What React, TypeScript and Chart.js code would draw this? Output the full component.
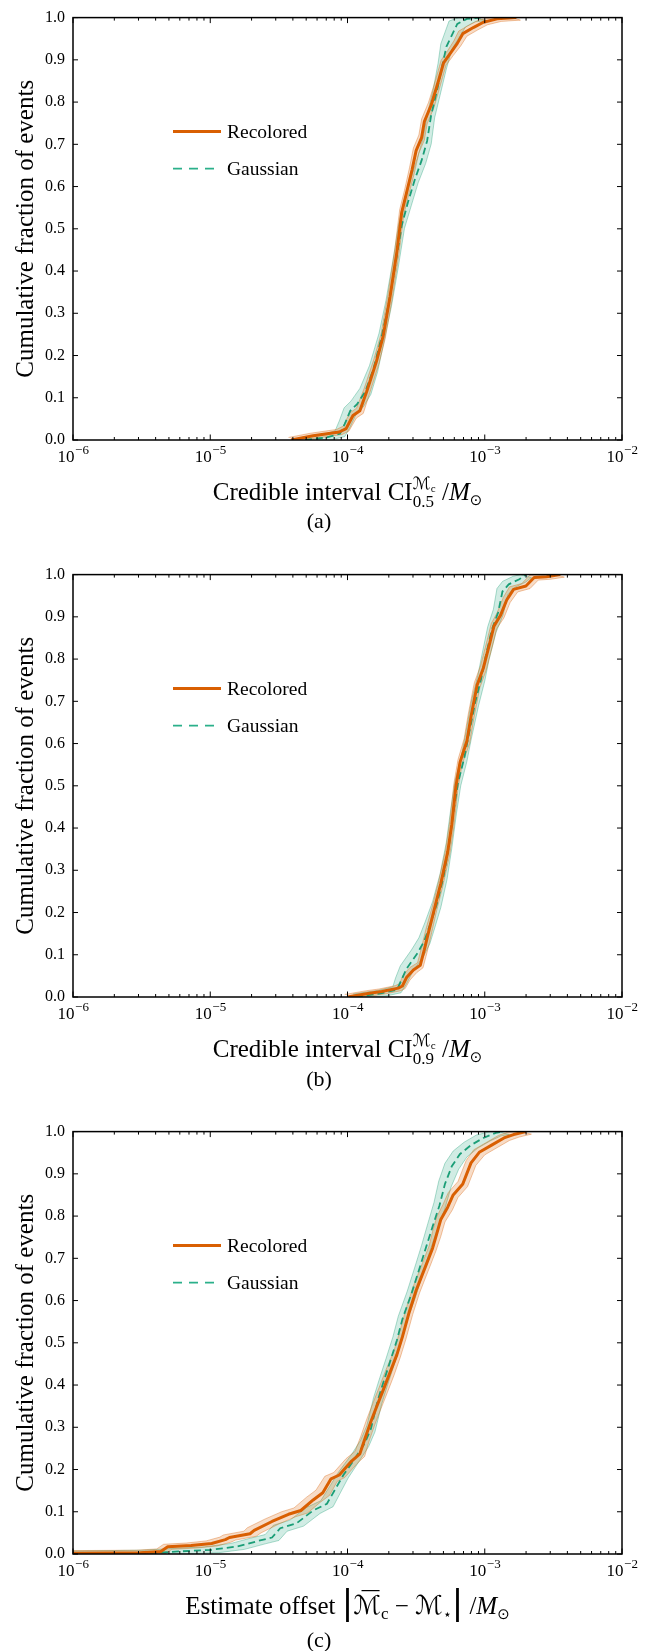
import React, { useEffect, useRef } from 'react';
import { Chart, registerables } from 'chart.js';

Chart.register(...registerables);

// ---------- shared labels / ticks ----------
const seriesLabels = ['Recolored', 'Gaussian'];
const yAxisTitle = 'Cumulative fraction of events';
const xTickExponents = [-6, -5, -4, -3, -2];
const minorTickMultipliers = [2, 3, 4, 5, 6, 7, 8, 9];
const yTickValues = [0, 0.1, 0.2, 0.3, 0.4, 0.5, 0.6, 0.7, 0.8, 0.9, 1.0];
const captions = ['(a)', '(b)', '(c)'];

// ---------- panel (a): credible interval CI_0.5 (log10 of x, CDF value, band half-width in decades) ----------
const aRecLogX = [-4.41, -4.25, -4.06, -4.01, -3.96, -3.91, -3.86, -3.79, -3.74, -3.69, -3.64, -3.605, -3.57, -3.53, -3.5, -3.46, -3.44, -3.39, -3.34, -3.3, -3.25, -3.2, -3.16, -3.08, -3.01, -2.91, -2.77];
const aRecY = [0, 0.01, 0.019, 0.027, 0.058, 0.069, 0.115, 0.185, 0.246, 0.339, 0.446, 0.539, 0.585, 0.639, 0.685, 0.716, 0.754, 0.793, 0.847, 0.893, 0.916, 0.939, 0.962, 0.977, 0.989, 0.997, 1.0];
const aRecBand = [0.02, 0.02, 0.02, 0.02, 0.025, 0.025, 0.02, 0.018, 0.015, 0.015, 0.015, 0.015, 0.015, 0.018, 0.02, 0.02, 0.02, 0.02, 0.018, 0.018, 0.02, 0.025, 0.03, 0.03, 0.03, 0.03, 0.03];
const aGauLogX = [-4.31, -4.15, -4.055, -4.02, -3.98, -3.93, -3.87, -3.81, -3.75, -3.7, -3.65, -3.605, -3.56, -3.51, -3.46, -3.42, -3.39, -3.35, -3.31, -3.28, -3.24, -3.2, -3.13, -3.03];
const aGauY = [0, 0.006, 0.015, 0.038, 0.069, 0.085, 0.115, 0.169, 0.246, 0.323, 0.416, 0.508, 0.562, 0.616, 0.662, 0.708, 0.77, 0.824, 0.885, 0.931, 0.958, 0.985, 0.997, 1.0];
const aGauBand = [0.02, 0.025, 0.035, 0.04, 0.045, 0.045, 0.04, 0.03, 0.02, 0.02, 0.02, 0.02, 0.025, 0.025, 0.03, 0.03, 0.025, 0.025, 0.03, 0.04, 0.05, 0.06, 0.06, 0.05];

// ---------- panel (b): credible interval CI_0.9 ----------
const bRecLogX = [-4.0, -3.84, -3.75, -3.63, -3.6, -3.57, -3.52, -3.47, -3.44, -3.41, -3.365, -3.32, -3.27, -3.24, -3.21, -3.18, -3.13, -3.1, -3.056, -3.01, -2.964, -2.933, -2.886, -2.84, -2.79, -2.7, -2.64, -2.55, -2.45];
const bRecY = [0, 0.009, 0.013, 0.021, 0.026, 0.046, 0.064, 0.075, 0.112, 0.153, 0.211, 0.269, 0.343, 0.409, 0.499, 0.556, 0.606, 0.664, 0.738, 0.779, 0.837, 0.878, 0.903, 0.94, 0.965, 0.973, 0.993, 0.995, 1.0];
const bRecBand = [0.02, 0.02, 0.02, 0.02, 0.02, 0.025, 0.025, 0.02, 0.02, 0.02, 0.015, 0.015, 0.015, 0.015, 0.015, 0.015, 0.02, 0.02, 0.02, 0.02, 0.02, 0.02, 0.025, 0.025, 0.03, 0.03, 0.03, 0.03, 0.03];
const bGauLogX = [-3.94, -3.75, -3.64, -3.61, -3.57, -3.49, -3.44, -3.4, -3.35, -3.3, -3.26, -3.226, -3.195, -3.15, -3.12, -3.07, -3.025, -2.995, -2.948, -2.902, -2.871, -2.825, -2.748, -2.7];
const bGauY = [0, 0.009, 0.017, 0.038, 0.067, 0.104, 0.133, 0.17, 0.219, 0.285, 0.359, 0.442, 0.507, 0.565, 0.615, 0.697, 0.755, 0.804, 0.87, 0.911, 0.96, 0.977, 0.989, 1.0];
const bGauBand = [0.02, 0.025, 0.03, 0.04, 0.045, 0.045, 0.04, 0.035, 0.03, 0.025, 0.02, 0.02, 0.02, 0.02, 0.02, 0.025, 0.025, 0.025, 0.03, 0.035, 0.04, 0.045, 0.045, 0.04];

// ---------- panel (c): estimate offset ----------
const cRecLogX = [-6.0, -5.51, -5.36, -5.31, -5.14, -4.99, -4.89, -4.86, -4.71, -4.68, -4.55, -4.43, -4.34, -4.25, -4.18, -4.12, -4.06, -3.97, -3.91, -3.875, -3.83, -3.78, -3.74, -3.69, -3.64, -3.6, -3.55, -3.5, -3.47, -3.43, -3.38, -3.35, -3.32, -3.27, -3.23, -3.16, -3.13, -3.1, -3.04, -2.95, -2.86, -2.79, -2.7];
const cRecY = [0.002, 0.003, 0.006, 0.017, 0.02, 0.025, 0.034, 0.039, 0.048, 0.056, 0.077, 0.094, 0.103, 0.128, 0.145, 0.178, 0.187, 0.22, 0.237, 0.271, 0.313, 0.355, 0.388, 0.43, 0.472, 0.514, 0.573, 0.624, 0.649, 0.682, 0.724, 0.758, 0.792, 0.821, 0.85, 0.876, 0.901, 0.926, 0.951, 0.968, 0.985, 0.993, 1.0];
const cRecBand = [0.03, 0.03, 0.03, 0.03, 0.035, 0.04, 0.04, 0.045, 0.045, 0.05,
  0.05, 0.05, 0.05, 0.05, 0.05, 0.045, 0.04, 0.04, 0.035, 0.03,
  0.03, 0.03, 0.03, 0.03, 0.025, 0.025, 0.025, 0.025, 0.025, 0.025,
  0.025, 0.03, 0.03, 0.035, 0.035, 0.035, 0.035, 0.035, 0.04, 0.04,
  0.04, 0.04, 0.04];
const cGauLogX = [-6.0, -5.45, -5.23, -4.99, -4.8, -4.65, -4.55, -4.49, -4.37, -4.25, -4.15, -4.09, -4.03, -3.94, -3.875, -3.83, -3.78, -3.74, -3.69, -3.64, -3.6, -3.535, -3.47, -3.43, -3.38, -3.33, -3.29, -3.24, -3.18, -3.1, -3.01, -2.92, -2.86];
const cGauY = [0.0, 0.002, 0.006, 0.01, 0.018, 0.031, 0.039, 0.061, 0.073, 0.103, 0.119, 0.153, 0.187, 0.229, 0.262, 0.296, 0.363, 0.405, 0.455, 0.506, 0.556, 0.615, 0.682, 0.724, 0.775, 0.825, 0.876, 0.918, 0.947, 0.968, 0.985, 0.997, 1.0];
const cGauBand = [0.04, 0.05, 0.05, 0.05, 0.05, 0.05, 0.05, 0.05, 0.05, 0.05,
  0.045, 0.04, 0.035, 0.03, 0.03, 0.03, 0.03, 0.03, 0.03, 0.03,
  0.03, 0.03, 0.03, 0.03, 0.035, 0.04, 0.045, 0.05, 0.05, 0.05,
  0.05, 0.04, 0.04];

// ---------- styles ----------
const ORANGE = '#d95f02';
const GREEN = '#1b9e77';
const SERIF = "'Liberation Serif', 'DejaVu Serif', 'Times New Roman', serif";
const SYM = "'DejaVu Sans', sans-serif";
const REC_BAND_DY = 0.006;
const GAU_BAND_DY = 0.007;

type Piece = { t: string; size: number; italic?: boolean; dy?: number; family?: string; bar?: boolean };
type Item = Piece | { stack: Piece[][] };

const xTitleA: Item[] = [
  { t: 'Credible interval CI', size: 25 },
  { stack: [[{ t: '\u2133', size: 17, family: SYM, dy: -11 }, { t: 'c', size: 11, dy: -8 }], [{ t: '0.5', size: 17, dy: 7 }]] },
  { t: ' /', size: 25 },
  { t: 'M', size: 25, italic: true },
  { t: '\u2299', size: 15, family: SYM, dy: 5 },
];
const xTitleB: Item[] = [
  { t: 'Credible interval CI', size: 25 },
  { stack: [[{ t: '\u2133', size: 17, family: SYM, dy: -11 }, { t: 'c', size: 11, dy: -8 }], [{ t: '0.9', size: 17, dy: 7 }]] },
  { t: ' /', size: 25 },
  { t: 'M', size: 25, italic: true },
  { t: '\u2299', size: 15, family: SYM, dy: 5 },
];
const xTitleC: Item[] = [
  { t: 'Estimate offset ', size: 25 },
  { t: '|', size: 34, family: SYM },
  { t: '\u2133', size: 26, family: SYM, bar: true },
  { t: 'c', size: 17, dy: 5 },
  { t: ' \u2212 ', size: 25 },
  { t: '\u2133', size: 26, family: SYM },
  { t: '\u22c6', size: 14, family: SYM, dy: 5 },
  { t: '|', size: 34, family: SYM },
  { t: ' /', size: 25 },
  { t: 'M', size: 25, italic: true },
  { t: '\u2299', size: 15, family: SYM, dy: 5 },
];

type Series = { logX: number[]; y: number[]; band: number[]; dy: number };

function linePoints(s: Series) {
  return s.logX.map((lx, i) => ({ x: Math.pow(10, lx), y: s.y[i] }));
}
function bandPolygon(s: Series) {
  const upper = s.logX.map((lx, i) => ({ x: Math.pow(10, lx - s.band[i]), y: Math.min(1, s.y[i] + s.dy) }));
  const lower = s.logX.map((lx, i) => ({ x: Math.pow(10, lx + s.band[i]), y: Math.max(0, s.y[i] - s.dy) }));
  return [...upper, ...lower.reverse()];
}

function fontOf(p: Piece) {
  return `${p.italic ? 'italic ' : ''}${p.size}px ${p.family ?? SERIF}`;
}
function piecesWidth(ctx: CanvasRenderingContext2D, ps: Piece[]) {
  let w = 0;
  for (const p of ps) {
    ctx.font = fontOf(p);
    w += ctx.measureText(p.t).width;
  }
  return w;
}
function itemWidth(ctx: CanvasRenderingContext2D, it: Item) {
  if ('stack' in it) return Math.max(...it.stack.map((r) => piecesWidth(ctx, r)));
  return piecesWidth(ctx, [it]);
}
function drawPieces(ctx: CanvasRenderingContext2D, ps: Piece[], x: number, y: number) {
  for (const p of ps) {
    ctx.font = fontOf(p);
    const w = ctx.measureText(p.t).width;
    const by = y + (p.dy ?? 0);
    ctx.fillText(p.t, x, by);
    if (p.bar) {
      ctx.save();
      ctx.lineWidth = 1.2;
      ctx.strokeStyle = '#000';
      ctx.beginPath();
      ctx.moveTo(x + w * 0.3, by - p.size * 0.88);
      ctx.lineTo(x + w * 0.95, by - p.size * 0.88);
      ctx.stroke();
      ctx.restore();
    }
    x += w;
  }
  return x;
}
function drawItems(ctx: CanvasRenderingContext2D, items: Item[], cx: number, baseline: number) {
  const total = items.reduce((a, it) => a + itemWidth(ctx, it), 0);
  let x = cx - total / 2;
  ctx.textAlign = 'left';
  ctx.textBaseline = 'alphabetic';
  for (const it of items) {
    if ('stack' in it) {
      for (const row of it.stack) drawPieces(ctx, row, x, baseline);
      x += itemWidth(ctx, it);
    } else {
      x = drawPieces(ctx, [it], x, baseline);
    }
  }
}

type PanelProps = {
  rec: Series;
  gau: Series;
  xTitle: Item[];
  caption: string;
  height: number;
  captionOffset: number;
};

const PLOT_TOP = 7;
const PLOT_BOTTOM = 440;
const PLOT_LEFT = 73;
const PLOT_RIGHT = 622;
const WIDTH = 665;

function Panel({ rec, gau, xTitle, caption, height, captionOffset }: PanelProps) {
  const ref = useRef<HTMLCanvasElement | null>(null);
  useEffect(() => {
    const canvas = ref.current;
    if (!canvas) return;

    const decor = {
      id: 'decor',
      afterDatasetsDraw(chart: any) {
        const { ctx, chartArea: a, scales } = chart;
        const x = scales.x;
        const y = scales.y;
        ctx.save();
        ctx.strokeStyle = '#000';
        ctx.lineWidth = 1;
        ctx.beginPath();
        for (const v of yTickValues) {
          const py = y.getPixelForValue(v);
          ctx.moveTo(a.left, py);
          ctx.lineTo(a.left + 5, py);
          ctx.moveTo(a.right, py);
          ctx.lineTo(a.right - 5, py);
        }
        for (const e of xTickExponents) {
          const px = x.getPixelForValue(Math.pow(10, e));
          ctx.moveTo(px, a.bottom);
          ctx.lineTo(px, a.bottom - 5.5);
          ctx.moveTo(px, a.top);
          ctx.lineTo(px, a.top + 5.5);
          if (e < xTickExponents[xTickExponents.length - 1]) {
            for (const m of minorTickMultipliers) {
              const pm = x.getPixelForValue(m * Math.pow(10, e));
              ctx.moveTo(pm, a.bottom);
              ctx.lineTo(pm, a.bottom - 3);
              ctx.moveTo(pm, a.top);
              ctx.lineTo(pm, a.top + 3);
            }
          }
        }
        ctx.stroke();
        ctx.lineWidth = 1.5;
        ctx.strokeRect(a.left, a.top, a.right - a.left, a.bottom - a.top);
        ctx.restore();
      },
      afterDraw(chart: any) {
        const { ctx, chartArea: a, scales } = chart;
        const x = scales.x;
        ctx.save();
        ctx.fillStyle = '#000';
        // x tick labels 10^e
        ctx.textBaseline = 'alphabetic';
        ctx.textAlign = 'left';
        for (const e of xTickExponents) {
          const px = x.getPixelForValue(Math.pow(10, e));
          const sup = '\u2212' + Math.abs(e);
          ctx.font = `17px ${SERIF}`;
          const w1 = ctx.measureText('10').width;
          ctx.font = `13px ${SERIF}`;
          const w2 = ctx.measureText(sup).width;
          const start = px - (w1 + w2) / 2;
          ctx.font = `17px ${SERIF}`;
          ctx.fillText('10', start, a.bottom + 21.5);
          ctx.font = `13px ${SERIF}`;
          ctx.fillText(sup, start + w1 + 0.5, a.bottom + 14);
        }
        // y axis title
        ctx.save();
        ctx.translate(33, (a.top + a.bottom) / 2);
        ctx.rotate(-Math.PI / 2);
        ctx.font = `25px ${SERIF}`;
        ctx.textAlign = 'center';
        ctx.textBaseline = 'alphabetic';
        ctx.fillText(yAxisTitle, 0, 0);
        ctx.restore();
        // x axis title
        drawItems(ctx, xTitle, (a.left + a.right) / 2, a.bottom + 59.5);
        // caption
        ctx.font = `22px ${SERIF}`;
        ctx.textAlign = 'center';
        ctx.textBaseline = 'middle';
        ctx.fillText(caption, 319, a.bottom + captionOffset);
        // legend
        const lx0 = a.left + 100;
        const lx1 = a.left + 148;
        const rows = [a.top + 114, a.top + 151];
        ctx.lineCap = 'butt';
        ctx.strokeStyle = ORANGE;
        ctx.lineWidth = 3;
        ctx.beginPath();
        ctx.moveTo(lx0, rows[0]);
        ctx.lineTo(lx1, rows[0]);
        ctx.stroke();
        ctx.strokeStyle = '#2bb08a';
        ctx.lineWidth = 1.8;
        ctx.setLineDash([9, 7]);
        ctx.beginPath();
        ctx.moveTo(lx0, rows[1]);
        ctx.lineTo(lx1, rows[1]);
        ctx.stroke();
        ctx.setLineDash([]);
        ctx.font = `19.5px ${SERIF}`;
        ctx.textAlign = 'left';
        ctx.textBaseline = 'middle';
        ctx.fillStyle = '#000';
        ctx.fillText(seriesLabels[0], a.left + 154, rows[0] + 1);
        ctx.fillText(seriesLabels[1], a.left + 154, rows[1] + 1);
        ctx.restore();
      },
    };

    const chart = new Chart(canvas, {
      type: 'scatter',
      data: {
        datasets: [
          {
            label: seriesLabels[0],
            data: linePoints(rec),
            showLine: true,
            borderColor: ORANGE,
            borderWidth: 3,
            pointRadius: 0,
            fill: false,
            order: 0,
            borderJoinStyle: 'round',
          } as any,
          {
            label: seriesLabels[1],
            data: linePoints(gau),
            showLine: true,
            borderColor: GREEN,
            borderWidth: 1.8,
            borderDash: [7, 4],
            pointRadius: 0,
            fill: false,
            order: 1,
          } as any,
          {
            label: seriesLabels[0] + ' band',
            data: bandPolygon(rec),
            showLine: true,
            borderColor: 'rgba(217,95,2,0.45)',
            borderWidth: 0.8,
            backgroundColor: 'rgba(217,95,2,0.22)',
            fill: 'shape',
            pointRadius: 0,
            order: 2,
          } as any,
          {
            label: seriesLabels[1] + ' band',
            data: bandPolygon(gau),
            showLine: true,
            borderColor: 'rgba(27,158,119,0.45)',
            borderWidth: 0.8,
            backgroundColor: 'rgba(27,158,119,0.2)',
            fill: 'shape',
            pointRadius: 0,
            order: 3,
          } as any,
        ],
      },
      options: {
        animation: false,
        responsive: false,
        maintainAspectRatio: false,
        devicePixelRatio: 1,
        events: [],
        layout: { padding: { top: PLOT_TOP, right: WIDTH - PLOT_RIGHT, left: 0, bottom: 0 } },
        plugins: { legend: { display: false }, tooltip: { enabled: false } },
        scales: {
          x: {
            type: 'logarithmic',
            min: Math.pow(10, xTickExponents[0]),
            max: Math.pow(10, xTickExponents[xTickExponents.length - 1]),
            ticks: { display: false },
            grid: { display: false, drawTicks: false },
            border: { display: false },
            afterFit: (s: any) => {
              s.height = height - PLOT_BOTTOM;
            },
          },
          y: {
            type: 'linear',
            min: 0,
            max: 1,
            afterBuildTicks: (s: any) => {
              s.ticks = yTickValues.map((v) => ({ value: v }));
            },
            ticks: {
              callback: (v: any) => Number(v).toFixed(1),
              color: '#000',
              padding: 8,
              font: { family: SERIF, size: 16 },
            },
            grid: { display: false, drawTicks: false },
            border: { display: false },
            afterFit: (s: any) => {
              s.width = PLOT_LEFT;
            },
          },
        },
      } as any,
      plugins: [decor],
    });
    return () => chart.destroy();
  }, []);
  return (
    <canvas
      ref={ref}
      width={WIDTH}
      height={height}
      style={{ display: 'block', width: WIDTH, height }}
    />
  );
}

const recA: Series = { logX: aRecLogX, y: aRecY, band: aRecBand, dy: REC_BAND_DY };
const gauA: Series = { logX: aGauLogX, y: aGauY, band: aGauBand, dy: GAU_BAND_DY };
const recB: Series = { logX: bRecLogX, y: bRecY, band: bRecBand, dy: REC_BAND_DY };
const gauB: Series = { logX: bGauLogX, y: bGauY, band: bGauBand, dy: GAU_BAND_DY };
const recC: Series = { logX: cRecLogX, y: cRecY, band: cRecBand, dy: REC_BAND_DY };
const gauC: Series = { logX: cGauLogX, y: cGauY, band: cGauBand, dy: GAU_BAND_DY };

export default function App() {
  return (
    <div style={{ position: 'absolute', left: 0, top: 0, width: WIDTH, background: '#fff' }}>
      <Panel rec={recA} gau={gauA} xTitle={xTitleA} caption={captions[0]} height={557} captionOffset={82} />
      <Panel rec={recB} gau={gauB} xTitle={xTitleB} caption={captions[1]} height={557} captionOffset={83} />
      <Panel rec={recC} gau={gauC} xTitle={xTitleC} caption={captions[2]} height={537} captionOffset={87} />
    </div>
  );
}
